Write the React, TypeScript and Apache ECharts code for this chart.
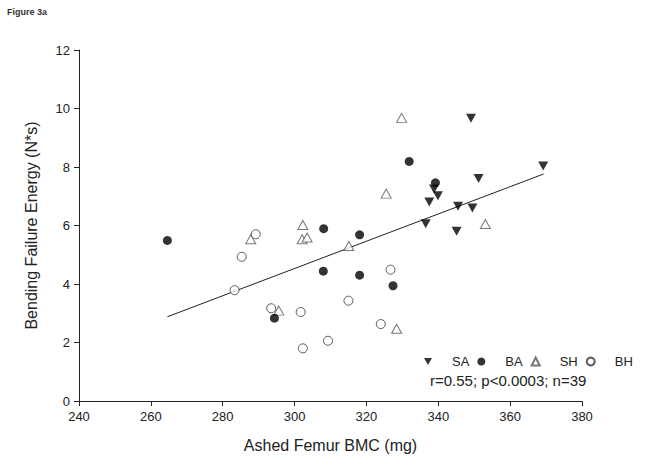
import React, { useEffect, useRef } from "react";
import * as echarts from "echarts";

const saData: number[][] = [
  [349.1, 9.67], [351.2, 7.61], [369.2, 8.03], [337.5, 6.8], [338.8, 7.25], [339.9, 7.02],
  [345.5, 6.66], [349.5, 6.6], [336.5, 6.06], [345.1, 5.8],
];
const baData: number[][] = [
  [264.6, 5.49], [308.1, 5.89], [331.9, 8.19], [339.2, 7.46], [318.1, 5.68],
  [308.0, 4.44], [294.4, 2.83], [318.1, 4.3], [327.4, 3.94],
];
const shData: number[][] = [
  [329.8, 9.68], [325.5, 7.09], [353.1, 6.05], [315.1, 5.3], [302.3, 6.02],
  [302.1, 5.53], [303.5, 5.59], [287.8, 5.53], [295.6, 3.09], [328.4, 2.47],
];
const bhData: number[][] = [
  [289.2, 5.7], [285.3, 4.93], [283.3, 3.79], [293.5, 3.17], [301.7, 3.04],
  [302.3, 1.8], [309.3, 2.06], [326.7, 4.49], [315.0, 3.43], [324.0, 2.63],
];
const fitLine: number[][] = [[264.6, 2.88], [369.3, 7.76]];
const legendNames = ["SA", "BA", "SH", "BH"];
const statText = "r=0.55; p<0.0003; n=39";

const FONT = "Liberation Sans, Arial, sans-serif";

export default function App() {
  const ref = useRef<HTMLDivElement>(null);
  useEffect(() => {
    if (!ref.current) return;
    const chart = echarts.init(ref.current, null, { renderer: "svg" });
    const downTri = "path://M0,0L10,0L5,9Z";
    chart.setOption({
      animation: false,
      backgroundColor: "#ffffff",
      textStyle: { fontFamily: FONT },
      grid: { left: 79, top: 50, right: 69, bottom: 67 },
      xAxis: {
        type: "value",
        min: 240,
        max: 380,
        interval: 20,
        name: "Ashed Femur BMC (mg)",
        nameLocation: "middle",
        nameGap: 36,
        nameTextStyle: { fontSize: 16, color: "#222", fontFamily: FONT },
        axisLine: { show: true, lineStyle: { color: "#222", width: 1 } },
        axisTick: { show: true, length: 5, lineStyle: { color: "#222" } },
        axisLabel: { fontSize: 13, color: "#222", margin: 9, fontFamily: FONT },
        splitLine: { show: false },
      },
      yAxis: {
        type: "value",
        min: 0,
        max: 12,
        interval: 2,
        name: "Bending Failure Energy (N*s)",
        nameLocation: "middle",
        nameGap: 40,
        nameTextStyle: { fontSize: 16, color: "#222", fontFamily: FONT },
        axisLine: { show: true, lineStyle: { color: "#222", width: 1 } },
        axisTick: { show: true, length: 5, lineStyle: { color: "#222" } },
        axisLabel: { fontSize: 13, color: "#222", margin: 9, fontFamily: FONT },
        splitLine: { show: false },
      },
      legend: {
        data: legendNames,
        left: 419,
        top: 350,
        itemWidth: 8,
        itemHeight: 8,
        itemGap: 8,
        textStyle: { fontSize: 13, color: "#222", padding: [0, 0, 0, 15], fontFamily: FONT },
      },
      graphic: [
        {
          type: "text",
          left: 7,
          top: 7,
          style: { text: "Figure 3a", font: "bold 9px " + FONT, fill: "#333" },
        },
        {
          type: "text",
          left: 430,
          top: 373,
          style: { text: statText, font: "15px " + FONT, fill: "#222" },
        },
      ],
      series: [
        {
          name: "fit",
          type: "line",
          data: fitLine,
          symbol: "none",
          lineStyle: { color: "#222", width: 1 },
          silent: true,
          z: 1,
        },
        {
          name: "SA",
          type: "scatter",
          data: saData,
          symbol: downTri,
          symbolSize: [10, 9],
          itemStyle: { color: "#000" },
          z: 3,
        },
        {
          name: "BA",
          type: "scatter",
          data: baData,
          symbol: "circle",
          symbolSize: 9,
          itemStyle: { color: "#000" },
          z: 3,
        },
        {
          name: "SH",
          type: "scatter",
          data: shData,
          symbol: "triangle",
          symbolSize: [10, 9],
          itemStyle: { color: "#fff", borderColor: "#555", borderWidth: 1 },
          z: 2,
        },
        {
          name: "BH",
          type: "scatter",
          data: bhData,
          symbol: "circle",
          symbolSize: 9,
          itemStyle: { color: "#fff", borderColor: "#333", borderWidth: 1 },
          z: 2,
        },
      ],
    });
    return () => chart.dispose();
  }, []);
  return (
    <div
      ref={ref}
      style={{ position: "fixed", left: 0, top: 0, width: 651, height: 468 }}
    />
  );
}
